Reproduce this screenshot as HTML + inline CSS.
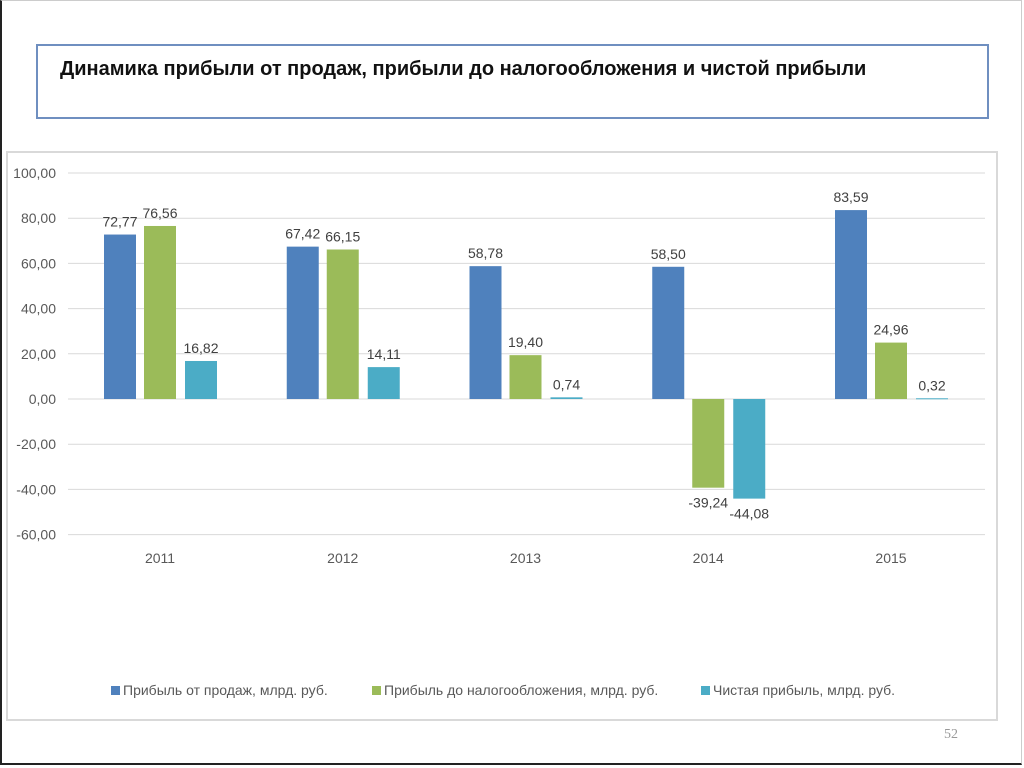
<!DOCTYPE html>
<html><head><meta charset="utf-8"><style>
body{margin:0;width:1024px;height:768px;overflow:hidden;background:#fff;font-family:"Liberation Sans","DejaVu Sans",sans-serif}
#slide{position:absolute;left:0;top:0;width:1022px;height:765px;border-left:2px solid #222;border-bottom:2px solid #222;border-top:1px solid #ccc;border-right:1px solid #ccc;box-sizing:border-box}
#title{position:absolute;left:36px;top:44px;width:953px;height:75px;border:2px solid #6f8fc0;box-sizing:border-box;font-weight:bold;font-size:20px;color:#111;padding:12px 0 0 22px}
#chartbox{position:absolute;left:6px;top:151px;width:992px;height:570px;border:2px solid #d9d9d9;box-sizing:border-box}
#pn{position:absolute;left:944px;top:727px;font-family:"Liberation Serif",serif;font-size:14px;color:#999}
</style></head><body>
<div id="slide"></div>
<div id="title">Динамика прибыли от продаж, прибыли до налогообложения и чистой прибыли</div>
<div id="chartbox"></div>
<svg id="chart" width="1024" height="768" style="position:absolute;left:0;top:0"></svg>
<div id="pn">52</div>
<script>
const categories=["2011","2012","2013","2014","2015"];
const salesProfit=[72.77,67.42,58.78,58.50,83.59];
const pretaxProfit=[76.56,66.15,19.40,-39.24,24.96];
const netProfit=[16.82,14.11,0.74,-44.08,0.32];
const yTicks=[100,80,60,40,20,0,-20,-40,-60];
const seriesNames=["Прибыль от продаж, млрд. руб.","Прибыль до налогообложения, млрд. руб.","Чистая прибыль, млрд. руб."];
const colors=["#4f81bd","#9bbb59","#4bacc6"];
const NS="http://www.w3.org/2000/svg";
const svg=document.getElementById('chart');
function y(v){return 399-v*2.26;}
function cx(i){return 160+i*182.75;}
function mk(t,a){const e=document.createElementNS(NS,t);for(const k in a)e.setAttribute(k,a[k]);svg.appendChild(e);return e;}
const fmt=v=>v.toFixed(2).replace('.',',');
yTicks.forEach(t=>{
  const l=mk('line',{x1:68,x2:985,y1:y(t),y2:y(t),stroke:'#d9d9d9','stroke-width':1});
  
  
  const tx=mk('text',{x:56,y:y(t)+5,'text-anchor':'end','font-size':14,fill:'#595959'});
  tx.textContent=fmt(t);
  
  
});
const series=[salesProfit,pretaxProfit,netProfit];
const bw=32,off=[-56,-16,25];
categories.forEach((c,i)=>{
  const lt=mk('text',{x:cx(i),y:563,'text-anchor':'middle','font-size':14,fill:'#595959'});
  lt.textContent=c;
  
  
  series.forEach((s,j)=>{
    const v=s[i];const x=cx(i)+off[j];
    const top=Math.min(y(v),y(0)),h=Math.max(Math.abs(y(v)-y(0)),1);
    const r=mk('rect',{x:x,y:top,width:bw,height:h,fill:colors[j]});
    
    
    const ly=v>=0?y(v)-8:y(v)+20;
    const t=mk('text',{x:x+bw/2,y:ly,'text-anchor':'middle','font-size':14,fill:'#404040'});
    t.textContent=fmt(v);
    
    
  });
});
const lx=[111,372,701];
seriesNames.forEach((n,j)=>{
  const r=mk('rect',{x:lx[j],y:686,width:9,height:9,fill:colors[j]});
  
  
  const t=mk('text',{x:lx[j]+12,y:695,'font-size':14,fill:'#595959'});
  t.textContent=n;
  
  
});
</script>
</body></html>
